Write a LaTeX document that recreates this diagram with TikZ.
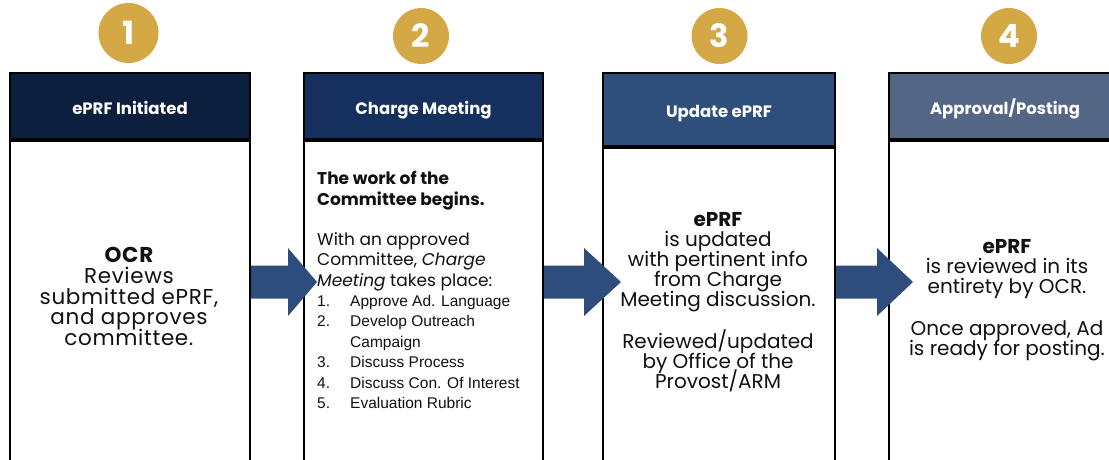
\documentclass[tikz,border=0pt]{standalone}
\usepackage{fontspec}
\setmainfont{Poppins}
\newfontfamily\listfont{Liberation Sans}
\usetikzlibrary{calc}

\definecolor{gold}{HTML}{D3A845}
\definecolor{hdrA}{HTML}{0C1F3F}
\definecolor{hdrB}{HTML}{15305E}
\definecolor{hdrC}{HTML}{2E4E7C}
\definecolor{hdrD}{HTML}{546685}
\definecolor{flowblue}{HTML}{2E4D7C}
\definecolor{ink}{HTML}{111111}

% fixed line pitch, whatever the glyph heights
\newcommand\tightlines{\lineskiplimit=-100pt\lineskip=0pt\relax}

% block arrow from the body of one step to the body of the next
% #1 from node, #2 to node, #3 shaft length, #4 tip overshoot into target
\newcommand\steparrow[4]{%
  \path (#1.east |- 0,282) coordinate (#1tail)
        ([xshift=#4]#2.west |- 0,282) coordinate (#1tip);
  \fill[flowblue] (#1tail) ++(0,-16.5) -- ++(#3,0) -- ++(0,-17.5)
    -- (#1tip) -- ($(#1tail)+(#3,34)$) -- ++(0,-17.5)
    -- ($(#1tail)+(0,16.5)$) -- cycle;
}

\begin{document}
\begin{tikzpicture}[x=1pt,y=-1pt,
  badge/.style={circle,fill=gold,inner sep=0pt,text=white,
    font=\fontsize{32}{32}\selectfont\bfseries},
  hdr/.style={draw=black,line width=2pt,anchor=north west,inner sep=0pt,
    text=white,text height=16pt,text depth=0pt,
    font=\fontsize{16.5}{16.5}\selectfont\bfseries},
  bodybox/.style={draw=black,line width=2pt,fill=white,anchor=north,inner sep=0pt},
  bodytext/.style={inner sep=0pt,text=ink,align=center,
    font=\fontsize{20}{20}\selectfont\tightlines},
  lefttext/.style={inner sep=0pt,text=ink,align=left,anchor=north west,
    font=\fontsize{17}{20.5}\selectfont\tightlines},
  listtext/.style={inner sep=0pt,text=ink,align=left,anchor=north west,
    font=\listfont\fontsize{15.5}{20.5}\selectfont\tightlines}]
\useasboundingbox (0,0) rectangle (1109,459);
\clip (0,0) rectangle (1109,459);

% numbered badges
\node[badge,minimum size=60pt] (n1) at (128.5,33) {1};
\node[badge,minimum size=56pt] (n2) at (421,36) {2};
\node[badge,minimum size=56pt] (n3) at (719.5,36) {3};
\node[badge,minimum size=56pt] (n4) at (1009,36) {4};

% step headers
\node[hdr,fill=hdrA,minimum width=240pt,minimum height=66pt] (h1) at (9,72) {ePRF Initiated};
\node[hdr,fill=hdrB,minimum width=239pt,minimum height=66pt] (h2) at (303,72) {Charge Meeting};
\node[hdr,fill=hdrC,minimum width=232pt,minimum height=73pt] (h3) at (602,72) {Update ePRF};
\node[hdr,fill=hdrD,minimum width=240pt,minimum height=66pt] (h4) at (888,72) {\hspace*{-8pt}Approval/Posting};

% step bodies
\node[bodybox,minimum width=240pt,minimum height=340pt] (b1) at (h1.south) {};
\node[bodybox,minimum width=239pt,minimum height=340pt] (b2) at (h2.south) {};
\node[bodybox,minimum width=232pt,minimum height=340pt] (b3) at (h3.south) {};
\node[bodybox,minimum width=240pt,minimum height=340pt] (b4) at (h4.south) {};

% arrows between steps
\steparrow{b1}{b2}{37}{14pt}
\steparrow{b2}{b3}{40}{19pt}
\steparrow{b3}{b4}{41}{25pt}

% step 1
\node[bodytext,anchor=north,
      font=\fontsize{21.5}{20.75}\selectfont\addfontfeature{LetterSpace=3}\tightlines] (t1) at (129,247)
  {{\bfseries OCR}\\Reviews\\submitted ePRF,\\and approves\\committee.};

% step 2
\node[lefttext,font=\fontsize{17}{20.5}\selectfont\bfseries\tightlines] (t2a) at (317,171)
  {The work of the\\Committee begins.};
\node[lefttext] (t2b) at (317,232)
  {With an approved\\Committee, \textit{Charge}\\\textit{Meeting} takes place:};
\node[listtext] (t2c) at (317,295)
  {\makebox[33pt][l]{1.}Approve Ad. Language\\
   \makebox[33pt][l]{2.}Develop Outreach\\
   \makebox[33pt][l]{}Campaign\\
   \makebox[33pt][l]{3.}Discuss Process\\
   \makebox[33pt][l]{4.}Discuss Con. Of Interest\\
   \makebox[33pt][l]{5.}Evaluation Rubric};

% step 3
\node[bodytext,anchor=north] (t3) at (718,212)
  {{\bfseries ePRF}\\is updated\\with pertinent info\\from Charge\\Meeting discussion.\\[22pt]
   Reviewed/updated\\by Office of the\\Provost/ARM};

% step 4
\node[bodytext,anchor=north] (t4) at (1007,239)
  {{\bfseries ePRF}\\is reviewed in its\\entirety by OCR.\\[22pt]
   Once approved, Ad\\is ready for posting.};
\end{tikzpicture}
\end{document}
